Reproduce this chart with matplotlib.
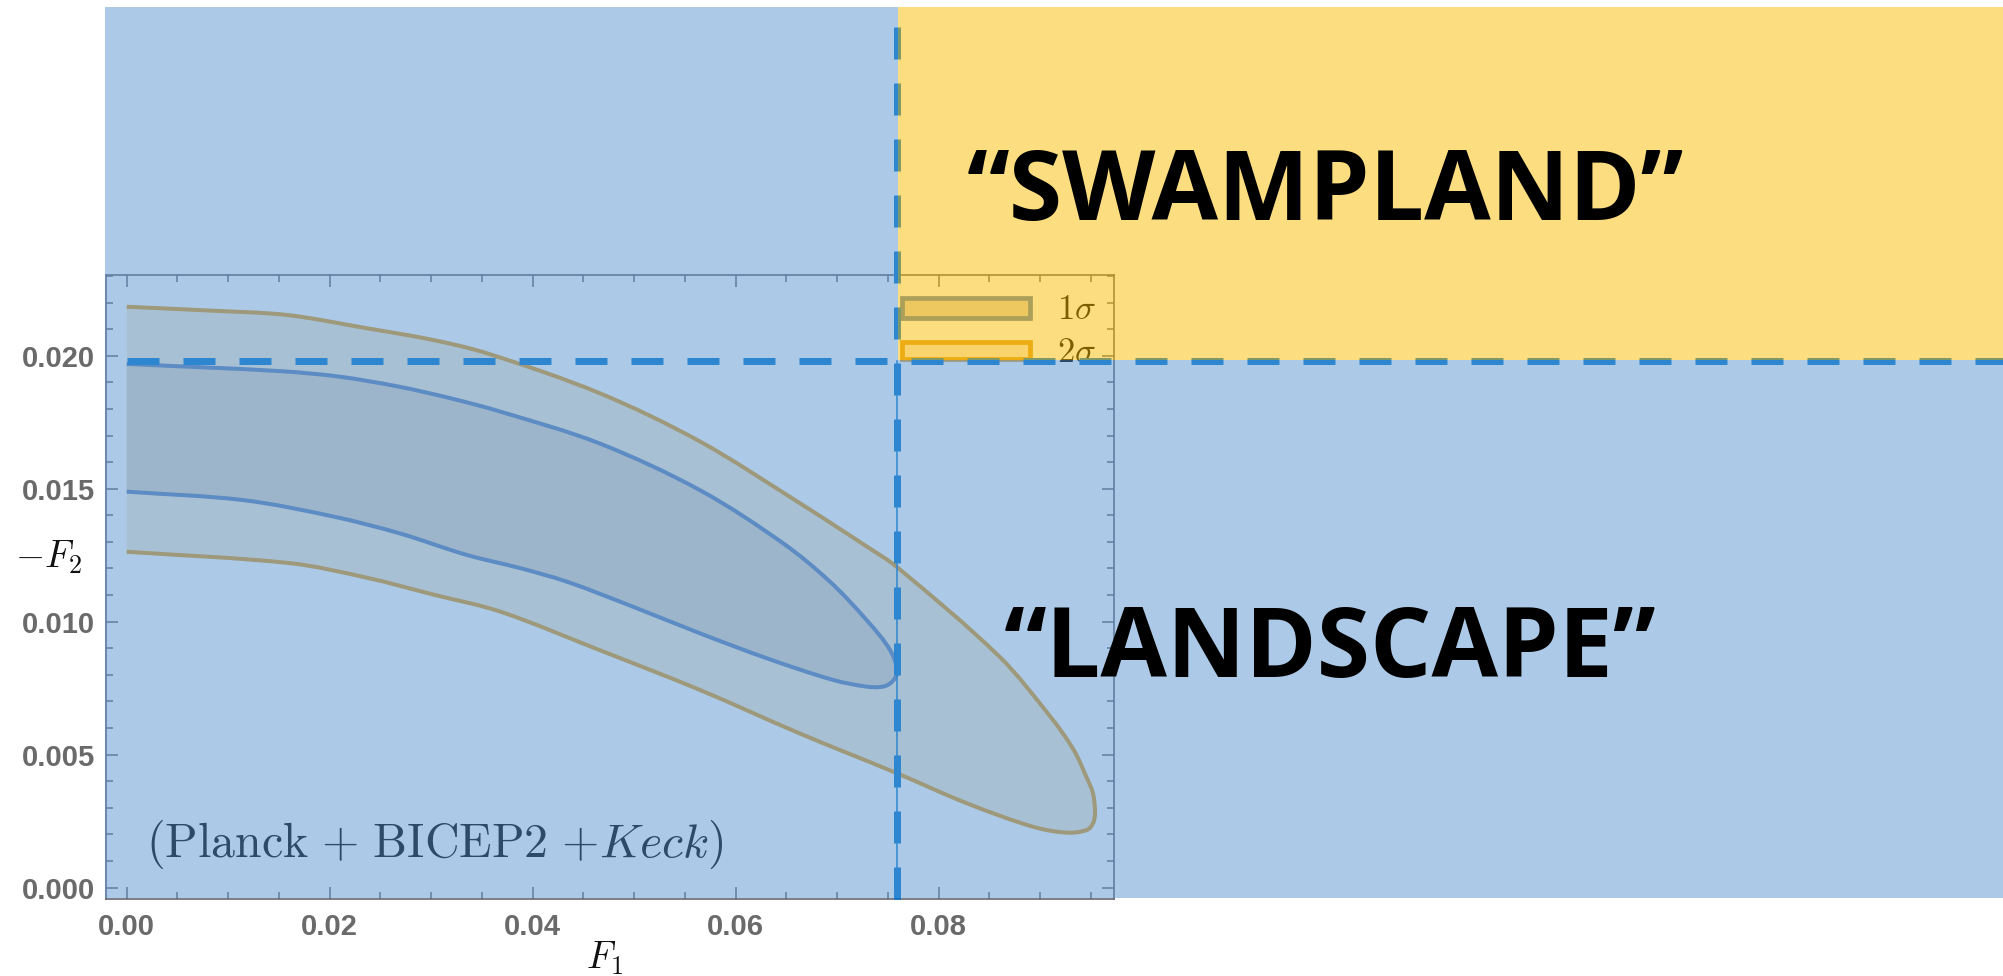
import numpy as np
import matplotlib
matplotlib.use("Agg")
import matplotlib.pyplot as plt
from matplotlib.patches import Rectangle, PathPatch
from matplotlib.path import Path
from matplotlib.lines import Line2D

plt.rcParams["mathtext.fontset"] = "cm"

# ---------------- data ----------------
# 2-sigma contour (outer), upper branch from F1 = 0 round to the tip
sigma2_upper_f1 = [0.0, 0.0080, 0.0158, 0.0237, 0.0302, 0.0355, 0.0466, 0.0565,
                   0.0663, 0.0729, 0.0759, 0.0860, 0.0910,
                   0.0933, 0.0946, 0.0952, 0.0954, 0.0952]
sigma2_upper_f2 = [0.02184, 0.02170, 0.02153, 0.02103, 0.02059, 0.02009, 0.01859, 0.01677,
                   0.01446, 0.01283, 0.01205, 0.00868, 0.00643,
                   0.00518, 0.00412, 0.00355, 0.00280, 0.00242]
# 2-sigma contour, lower branch from F1 = 0 to the tip
sigma2_lower_f1 = [0.0, 0.0161, 0.0237, 0.0302, 0.0368, 0.0466, 0.0565,
                   0.0663, 0.0759, 0.0828, 0.0893, 0.0926, 0.0946]
sigma2_lower_f2 = [0.01263, 0.01220, 0.01165, 0.01102, 0.01038, 0.00893, 0.00743,
                   0.00580, 0.00430, 0.00317, 0.00229, 0.00207, 0.00217]

# 1-sigma contour (inner)
sigma1_upper_f1 = [0.0, 0.0151, 0.0210, 0.0269, 0.0319, 0.0368, 0.0466, 0.0565,
                   0.0647, 0.0693, 0.0729, 0.0752, 0.0759]
sigma1_upper_f2 = [0.01969, 0.01942, 0.01921, 0.01883, 0.01840, 0.01790, 0.01670, 0.01494,
                   0.01294, 0.01150, 0.01006, 0.00894, 0.00812]
sigma1_lower_f1 = [0.0, 0.0115, 0.0204, 0.0269, 0.0335, 0.0388, 0.0434, 0.0499,
                   0.0565, 0.0631, 0.0696, 0.0729, 0.0745, 0.0754]
sigma1_lower_f2 = [0.01489, 0.01457, 0.01395, 0.01332, 0.01251, 0.01201, 0.01150, 0.01056,
                   0.00956, 0.00862, 0.00781, 0.00756, 0.00756, 0.00774]

# swampland bounds
f1_bound = 0.0759
f2_bound = 0.0198

x_major = [0.00, 0.02, 0.04, 0.06, 0.08]
x_labels = ["0.00", "0.02", "0.04", "0.06", "0.08"]
y_major = [0.000, 0.005, 0.010, 0.015, 0.020]
y_labels = ["0.000", "0.005", "0.010", "0.015", "0.020"]

legend_labels = [r"$1\sigma$", r"$2\sigma$"]
region_labels = ["\u201cSWAMPLAND\u201d", "\u201cLANDSCAPE\u201d"]
data_label = r"$(\mathrm{Planck}\ {+}\ \mathrm{BICEP2}\ {+}\mathit{Keck})$"

# ---------------- styling ----------------
W, H = 2003, 976
BLUE_EDGE = "#5E81B5"
ORANGE_EDGE = "#E09C24"
INNER_FILL = "#DFD5C3"
OUTER_FILL = "#F7EBD7"
FRAME = "#666670"
TICKLBL = "#6a6a6a"
DASH = "#0175CF"
SHADE_BLUE = "#5B97D1"
SHADE_YELLOW = "#FBBD01"


def fx(x):
    return x / W


def fy(y):
    return 1 - y / H


fig = plt.figure(figsize=(W / 100, H / 100), dpi=100)
fig.patch.set_facecolor("white")

ax = fig.add_axes([fx(106), fy(899), (1114 - 106) / W, (899 - 275) / H])
ax.set_xlim(-0.00204, 0.09727)
ax.set_ylim(-0.000425, 0.023034)
ax.set_facecolor("none")


def smooth_path(xs, ys, close=False):
    """Cubic Bezier path through the given points (tangents set in screen space)."""
    pts = ax.transData.transform(np.column_stack([xs, ys]))
    n = len(pts)
    tang = np.zeros_like(pts)
    for i in range(n):
        a = pts[max(i - 1, 0)]
        b = pts[min(i + 1, n - 1)]
        d = b - a
        tang[i] = d / (np.hypot(*d) or 1.0)
    verts = [pts[0]]
    codes = [Path.MOVETO]
    for i in range(n - 1):
        seg = np.hypot(*(pts[i + 1] - pts[i])) / 3.0
        verts += [pts[i] + tang[i] * seg, pts[i + 1] - tang[i + 1] * seg, pts[i + 1]]
        codes += [Path.CURVE4] * 3
    if close:
        verts.append(pts[0])
        codes.append(Path.CLOSEPOLY)
    verts = ax.transData.inverted().transform(np.array(verts))
    return Path(verts, codes)


# contour regions
outer_x = sigma2_upper_f1 + sigma2_lower_f1[::-1]
outer_y = sigma2_upper_f2 + sigma2_lower_f2[::-1]
inner_x = sigma1_upper_f1 + sigma1_lower_f1[::-1]
inner_y = sigma1_upper_f2 + sigma1_lower_f2[::-1]

ax.add_patch(PathPatch(smooth_path(outer_x, outer_y, close=True),
                       facecolor=OUTER_FILL, edgecolor="none", zorder=1))
ax.add_patch(PathPatch(smooth_path(inner_x, inner_y, close=True),
                       facecolor=INNER_FILL, edgecolor="none", zorder=1.2))
ax.add_patch(PathPatch(smooth_path(outer_x, outer_y), facecolor="none",
                       edgecolor=ORANGE_EDGE, lw=2.9, joinstyle="round", zorder=2))
ax.add_patch(PathPatch(smooth_path(inner_x, inner_y), facecolor="none",
                       edgecolor=BLUE_EDGE, lw=2.9, joinstyle="round", zorder=2.2))

# frame and ticks
for sp in ax.spines.values():
    sp.set_color(FRAME)
    sp.set_linewidth(1.2)
ax.set_xticks(x_major)
ax.set_xticklabels(x_labels)
ax.set_yticks(y_major)
ax.set_yticklabels(y_labels)
ax.set_xticks(np.arange(0, 0.0966, 0.005), minor=True)
ax.set_yticks(np.arange(0, 0.0231, 0.001), minor=True)
ax.tick_params(which="both", direction="in", top=True, right=True, color=FRAME, width=1.1)
ax.tick_params(which="major", length=8.6)
ax.tick_params(which="minor", length=5.2)
ax.tick_params(axis="x", which="major", pad=10)
ax.tick_params(axis="y", which="major", pad=8)
for lbl in ax.get_xticklabels() + ax.get_yticklabels():
    lbl.set_family("Liberation Sans")
    lbl.set_fontweight("bold")
    lbl.set_fontsize(21)
    lbl.set_color(TICKLBL)

# axis labels
fig.text(fx(605), fy(958), r"$F_1$", fontsize=27, ha="center", va="center", color="#111111")
fig.text(fx(15), fy(557), r"$-F_2$", fontsize=27, ha="left", va="center", color="#111111")

# dataset label
fig.text(fx(146), fy(857), data_label, fontsize=34.5, ha="left", va="baseline",
         color="black", zorder=1)

# legend
leg_boxes = [((901.6, 298.3, 1030.4, 317.7), BLUE_EDGE, INNER_FILL),
             ((901.6, 342.3, 1030.4, 359.4), ORANGE_EDGE, OUTER_FILL)]
for (x0, y0, x1, y1), ec, fc in leg_boxes:
    fig.add_artist(Rectangle((fx(x0), fy(y1)), (x1 - x0) / W, (y1 - y0) / H,
                             transform=fig.transFigure, facecolor=fc, edgecolor=ec,
                             lw=3.4, zorder=2))
for lab, ty in zip(legend_labels, [309, 351.5]):
    fig.text(fx(1057), fy(ty), lab, fontsize=25, ha="left", va="center",
             color="black", zorder=2)

# bound lines (drawn beneath the shading)
inv = ax.transData.inverted()
x_right = inv.transform(fig.transFigure.transform((1.0, 0.0)))[0]
y_top = inv.transform(fig.transFigure.transform((0.0, fy(7))))[1]
y_bot = ax.get_ylim()[0]

dash_on, dash_off = 32 / 7, 24 / 7
fig.add_artist(Line2D([0.0, x_right], [f2_bound, f2_bound], transform=ax.transData,
                      color=DASH, lw=5.04, dashes=(dash_on, dash_off), clip_on=False,
                      zorder=4))
fig.add_artist(Line2D([f1_bound, f1_bound], [y_bot, f2_bound], transform=ax.transData,
                      color=DASH, lw=1.1, clip_on=False, zorder=3.9))
fig.add_artist(Line2D([f1_bound, f1_bound], [y_bot, y_top], transform=ax.transData,
                      color=DASH, lw=5.04, dashes=(dash_on, dash_off), clip_on=False,
                      zorder=4))

# translucent shading of the two regions
shade = dict(transform=fig.transFigure, lw=0, alpha=0.5, zorder=5, antialiased=False)
fig.add_artist(Rectangle((fx(105), fy(898)), (898 - 105) / W, (898 - 7) / H,
                         facecolor=SHADE_BLUE, **shade))
fig.add_artist(Rectangle((fx(898), fy(898)), (W - 898) / W, (898 - 360) / H,
                         facecolor=SHADE_BLUE, **shade))
fig.add_artist(Rectangle((fx(898), fy(360)), (W - 898) / W, (360 - 7) / H,
                         facecolor=SHADE_YELLOW, **shade))

# region names
for lab, (lx, ly) in zip(region_labels, [(967, 220), (1004, 677)]):
    fig.text(fx(lx), fy(ly), lab, family="Open Sans", fontweight="bold",
             fontsize=69.5, ha="left", va="baseline", color="black", zorder=10)

fig.savefig("out.png", dpi=100)
